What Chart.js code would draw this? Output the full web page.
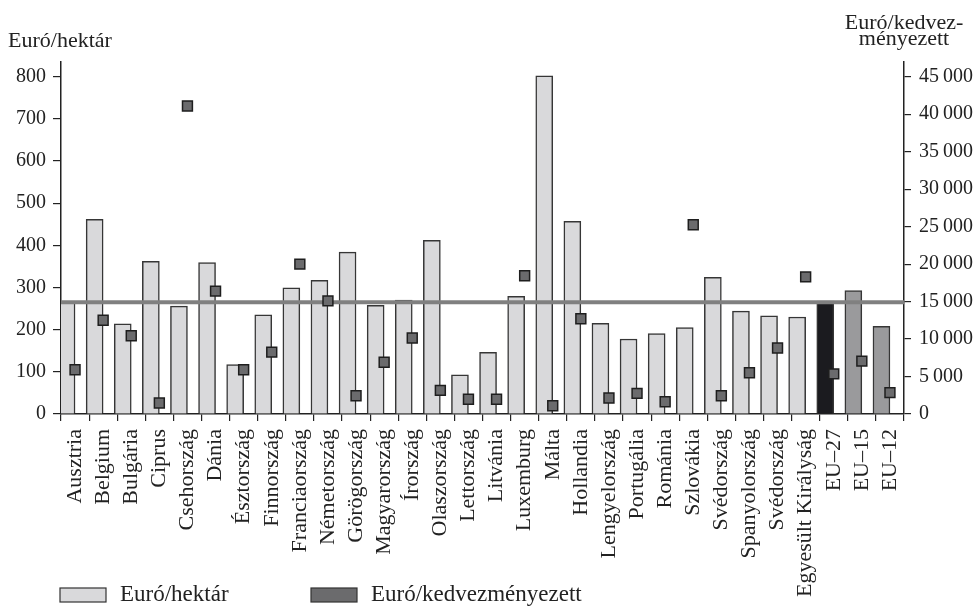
<!DOCTYPE html>
<html>
<head>
<meta charset="utf-8">
<script src="https://cdn.jsdelivr.net/npm/chart.js@4"></script>
<style>
  html, body { margin: 0; padding: 0; background: #ffffff; }
  #wrap { width: 977px; height: 606px; position: relative; }
</style>
</head>
<body>
<div id="wrap"><canvas id="c" width="977" height="606"></canvas></div>
<script>
// ---- data ----
const categories = ["Ausztria","Belgium","Bulgária","Ciprus","Csehország","Dánia","Észtország","Finnország","Franciaország","Németország","Görögország","Magyarország","Írország","Olaszország","Lettország","Litvánia","Luxemburg","Málta","Hollandia","Lengyelország","Portugália","Románia","Szlovákia","Svédország","Spanyolország","Svédország","Egyesült Királyság","EU–27","EU–15","EU–12"];
const euroPerHectare = [266,462,214,362,256,359,117,235,299,317,384,258,270,412,93,146,279,802,457,215,178,191,205,324,244,233,230,268,293,208];
const euroPerBeneficiary = [5900,12500,10450,1470,41100,16400,5900,8250,20000,15100,2440,6900,10150,3150,1960,1960,18450,1100,12700,2130,2750,1640,25250,2440,5500,8800,18300,5350,7050,2850];
const euAverageHectare = 265;
const leftTicks = [0,100,200,300,400,500,600,700,800];
const rightTicks = [0,5000,10000,15000,20000,25000,30000,35000,40000,45000];
const titleLeft = "Euró/hektár";
const titleRight = ["Euró/kedvez-","ményezett"];
const legendLabels = ["Euró/hektár","Euró/kedvezményezett"];

const FONT = "'Liberation Serif', 'Times New Roman', serif";
const INK = "#222222";
const barFills = categories.map(c => c === "EU–27" ? "#1b1b1f" : (c === "EU–15" || c === "EU–12") ? "#9a9a9c" : "#d9d9db");
const markerFill = "#6b6b6d";

function fmtSpace(v) {
  return String(v).replace(/\B(?=(\d{3})+(?!\d))/g, "\u2009");
}

const overlay = {
  id: 'overlay',
  afterDraw(chart) {
    const ctx = chart.ctx;
    ctx.save();
    ctx.fillStyle = INK;
    ctx.font = "22px " + FONT;
    ctx.textBaseline = "alphabetic";
    ctx.textAlign = "left";
    ctx.fillText(titleLeft, 8, 47);
    ctx.textAlign = "center";
    const rx = chart.scales.y1.left;
    ctx.fillText(titleRight[0], rx, 29);
    ctx.fillText(titleRight[1], rx, 45);
    // legend
    const items = [
      {x: 60, fill: chart.data.datasets[0].backgroundColor[0], text: legendLabels[0]},
      {x: 311, fill: chart.data.datasets[2].backgroundColor, text: legendLabels[1]}
    ];
    ctx.font = "23px " + FONT;
    ctx.textAlign = "left";
    items.forEach(it => {
      ctx.fillStyle = it.fill;
      ctx.fillRect(it.x, 588, 46, 14);
      ctx.strokeStyle = "#333";
      ctx.lineWidth = 1.2;
      ctx.strokeRect(it.x, 588, 46, 14);
      ctx.fillStyle = INK;
      ctx.fillText(it.text, it.x + 60, 601);
    });
    ctx.restore();
  }
};

new Chart(document.getElementById('c'), {
  data: {
    labels: categories,
    datasets: [
      {
        type: 'bar',
        label: legendLabels[0],
        data: euroPerHectare,
        backgroundColor: barFills,
        borderColor: "#363636",
        borderWidth: 1.5,
        borderSkipped: 'bottom',
        barThickness: 17,
        xAxisID: 'x',
        yAxisID: 'y',
        order: 3
      },
      {
        type: 'line',
        label: 'EU átlag',
        data: [{x: 0, y: euAverageHectare}, {x: 1, y: euAverageHectare}],
        borderColor: "#808080",
        borderWidth: 4,
        pointRadius: 0,
        xAxisID: 'xLine',
        yAxisID: 'y',
        order: 2
      },
      {
        type: 'line',
        label: legendLabels[1],
        data: euroPerBeneficiary,
        showLine: false,
        pointStyle: 'rect',
        pointRadius: 7,
        backgroundColor: markerFill,
        borderColor: "#1e1e1e",
        borderWidth: 1.5,
        xAxisID: 'x',
        yAxisID: 'y1',
        order: 1
      }
    ]
  },
  options: {
    responsive: false,
    animation: false,
    events: [],
    layout: { padding: { top: 62, left: 0, right: 0, bottom: 0 } },
    plugins: { legend: { display: false }, tooltip: { enabled: false } },
    scales: {
      x: {
        type: 'category',
        offset: true,
        grid: { display: true, offset: true, drawOnChartArea: false, drawTicks: true, tickLength: 7, color: INK, lineWidth: 1.2 },
        border: { display: true, color: INK, width: 1.5 },
        ticks: { autoSkip: false, minRotation: 90, maxRotation: 90, padding: 8, color: INK, font: { family: FONT, size: 22 } },
        afterFit(s) { s.height = 192; }
      },
      xLine: {
        type: 'linear', display: false, min: 0, max: 1
      },
      y: {
        position: 'left',
        min: 0, max: 835,
        grid: { drawOnChartArea: false, drawTicks: true, tickLength: 8, color: INK, lineWidth: 1.2 },
        border: { display: true, color: INK, width: 1.5 },
        ticks: { padding: 7, color: INK, font: { family: FONT, size: 20 } },
        afterBuildTicks(s) { s.ticks = leftTicks.map(v => ({value: v})); },
        afterFit(s) { s.width = 61; }
      },
      y1: {
        position: 'right',
        min: 0, max: 835 * 56.25,
        grid: { drawOnChartArea: false, drawTicks: true, tickLength: 7, color: INK, lineWidth: 1.2 },
        border: { display: true, color: INK, width: 1.5 },
        ticks: { padding: 8, color: INK, font: { family: FONT, size: 20 }, callback: v => fmtSpace(v) },
        afterBuildTicks(s) { s.ticks = rightTicks.map(v => ({value: v})); },
        afterFit(s) { s.width = 73; }
      }
    }
  },
  plugins: [overlay]
});
</script>
</body>
</html>
